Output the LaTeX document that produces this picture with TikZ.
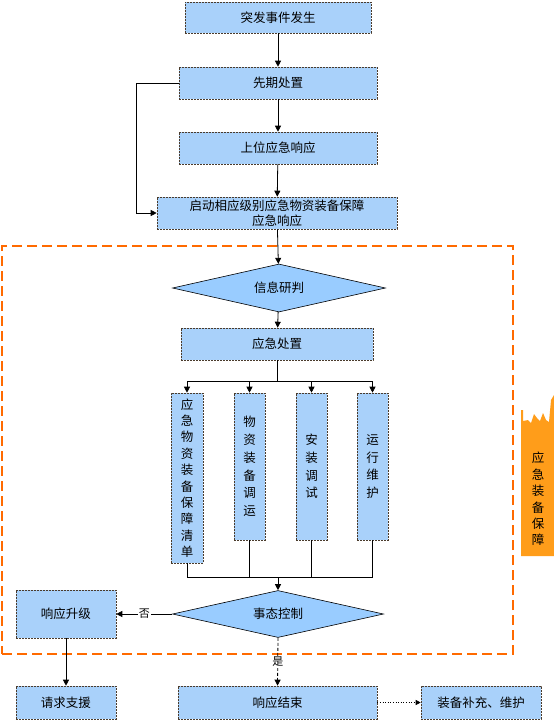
\documentclass[tikz,border=0pt]{standalone}
\usepackage{fontspec}
\setmainfont{Noto Sans CJK SC}
\usetikzlibrary{arrows.meta,shapes.geometric}
\definecolor{boxblue}{HTML}{A9D1FA}
\definecolor{diablue}{HTML}{99CCFF}
\definecolor{bord}{HTML}{4A3B2C}
\definecolor{orng}{HTML}{FF6A00}
\definecolor{orfill}{HTML}{FF9D1A}
\begin{document}
\begin{tikzpicture}[x=1pt,y=-1pt,
  box/.style={draw=bord, dash pattern=on 2pt off 1pt, line width=0.6pt, fill=boxblue, inner sep=0pt,
    font=\fontsize{12.5}{14}\selectfont, align=center},
  vbox/.style={box, font=\fontsize{12.5}{17.7}\selectfont},
  dia/.style={diamond, draw=black, line width=0.6pt, fill=diablue, inner sep=0pt, aspect=4,
    font=\fontsize{12.5}{14}\selectfont},
  conn/.style={line width=0.8pt, black},
  arr/.style={conn, -{Triangle[length=6pt,width=6pt]}},
  lbl/.style={fill=white, inner sep=1pt, font=\fontsize{11}{12}\selectfont}]
\useasboundingbox (0,0) rectangle (554,724);
\fill[white] (0,0) rectangle (554,724);
% orange frame
\node[draw=orng, line width=2.2pt, dash pattern=on 10pt off 5pt, minimum width=511, minimum height=408, inner sep=0pt] (frame) at (257.5,450) {};
% orange side tag
\fill[orfill] (521,556) -- (521,410) -- (523,410) -- (523,421) -- (528,420) -- (531,423) -- (534,414) -- (537,418) -- (540,421)
  -- (543,413) -- (546,420) -- (549,422) -- (551,400) -- (554,395) -- (554,556) -- cycle;
\node[font=\fontsize{12.5}{16.4}\selectfont, align=center, inner sep=0pt] (tag) at (538,499) {应\\急\\装\\备\\保\\障};
% top chain
\node[box, minimum width=186, minimum height=31] (a) at (278,17.5) {突发事件发生};
\node[box, minimum width=198, minimum height=32] (b) at (278,83) {先期处置};
\node[box, minimum width=198, minimum height=32] (c) at (278,148) {上位应急响应};
\node[box, minimum width=240, minimum height=32, font=\fontsize{12.5}{14.5}\selectfont] (d) at (277,213) {启动相应级别应急物资装备保障\\应急响应};
\node[dia, minimum width=213, minimum height=48] (e) at (279,288) {信息研判};
\node[box, minimum width=192, minimum height=32] (f) at (277,344) {应急处置};
% vertical boxes
\node[vbox, minimum width=32, minimum height=170, font=\fontsize{12.5}{16.4}\selectfont] (v1) at (187,478) {应\\急\\物\\资\\装\\备\\保\\障\\清\\单};
\node[vbox, minimum width=31, minimum height=147] (v2) at (249.5,466.5) {物\\资\\装\\备\\调\\运};
\node[vbox, minimum width=31, minimum height=147] (v3) at (311.5,466.5) {安\\装\\调\\试};
\node[vbox, minimum width=31, minimum height=147] (v4) at (372.5,466.5) {运\\行\\维\\护};
\node[dia, minimum width=211, minimum height=47] (g) at (278,614) {事态控制};
% bottom nodes
\node[box, minimum width=100, minimum height=48] (up) at (66,614) {响应升级};
\node[box, minimum width=100, minimum height=33] (help) at (66,702.5) {请求支援};
\node[box, minimum width=199, minimum height=33] (end) at (277.5,702.5) {响应结束};
\node[box, minimum width=120, minimum height=33] (rep) at (481,702.5) {装备补充、维护};
% connectors
\draw[arr] (a) -- (b);
\draw[arr] (b) -- (c);
\draw[arr] (c) -- (d);
\coordinate (lft) at (136,83);
\draw[arr] (b.west) -- (lft) |- (d.west);
\draw[arr] (d) -- (e);
\draw[arr] (e) -- (f);
\coordinate (bar) at (277,381);
\draw[conn] (f) -- (bar);
\draw[conn] (v1.north |- bar) -- (v4.north |- bar);
\foreach \v in {v1,v2,v3,v4} \draw[arr] (\v.north |- bar) -- (\v.north);
\coordinate (bar2) at (278,577);
\draw[conn] (v1.south) -- (v1.south |- bar2) -- (v4.south |- bar2) -- (v4.south);
\draw[conn] (v2.south) -- (v2.south |- bar2);
\draw[conn] (v3.south) -- (v3.south |- bar2);
\draw[arr] (bar2) -- (g.north);
\draw[arr] (g.west) -- node[lbl] {否} (up.east);
\draw[arr] (up) -- (help);
\draw[arr, dash pattern=on 3pt off 2pt] (g.south) -- node[lbl] {是} (end.north);
\draw[conn, line width=0.6pt, dotted, -{Triangle[length=5pt,width=5pt]}] (end.east) -- (rep.west);
\end{tikzpicture}
\end{document}
